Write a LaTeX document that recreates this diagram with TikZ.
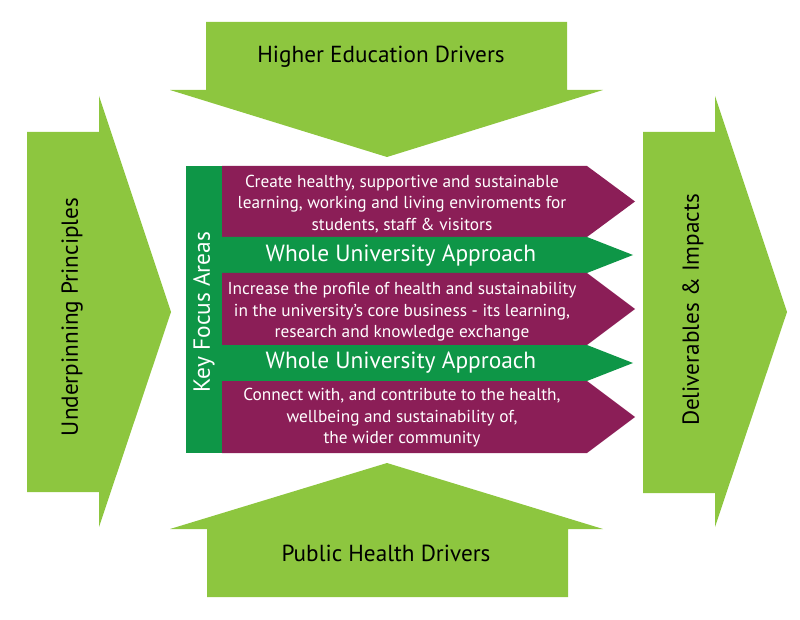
\documentclass[tikz,border=0pt]{standalone}
\usepackage{fontspec}
\setmainfont{PT Sans}
\definecolor{lgreen}{RGB}{141,198,63}
\definecolor{dgreen}{RGB}{14,150,71}
\definecolor{plum}{RGB}{139,30,87}
\begin{document}
\begin{tikzpicture}[x=1pt,y=-1pt,
  bigarrow/.style={fill=lgreen,draw=none},
  bandp/.style={fill=plum,draw=none},
  bandg/.style={fill=dgreen,draw=none},
  bigtext/.style={font=\fontsize{23.2}{27}\selectfont,text=black,inner sep=0pt},
  ptext/.style={font=\fontsize{17.3}{21.5}\selectfont,text=white,align=center,inner sep=0pt},
  gtext/.style={font=\fontsize{23.4}{26}\selectfont,text=white,inner sep=0pt}]
\useasboundingbox (0,0) rectangle (800,620);
% big arrows
\path[bigarrow] (206,22) -- (567,22) -- (567,90) -- (603,90) -- (387,157) -- (170,90) -- (206,90) -- cycle;
\path[bigarrow] (207,597) -- (568,597) -- (568,529) -- (603,529) -- (387,463) -- (170,529) -- (207,529) -- cycle;
\path[bigarrow] (27,132) -- (99,132) -- (99,96) -- (171,312) -- (99,527) -- (99,492) -- (27,492) -- cycle;
\path[bigarrow] (643,132) -- (715,132) -- (715,96) -- (787,312) -- (715,527) -- (715,493) -- (643,493) -- cycle;
\node[bigtext] (he) at (381,57) {Higher Education Drivers};
\node[bigtext] (ph) at (386,553) {Public Health Drivers};
\node[bigtext,rotate=90] (up) at (72,317) {Underpinning Principles};
\node[bigtext,rotate=90] (di) at (693,310) {Deliverables \& Impacts};
% key focus bar
\path[bandg] (186,166) rectangle (222,453);
\node[gtext,rotate=90] (kf) at (204,312) {Key Focus Areas};
% bands
\path[bandp] (222,166) -- (587,166) -- (635,201.5) -- (587,237) -- (222,237) -- cycle;
\path[bandg] (222,237) -- (587,237) -- (633,255) -- (587,273) -- (222,273) -- cycle;
\path[bandp] (222,273) -- (587,273) -- (635,309) -- (587,345) -- (222,345) -- cycle;
\path[bandg] (222,345) -- (587,345) -- (633,363) -- (587,381) -- (222,381) -- cycle;
\path[bandp] (222,381) -- (587,381) -- (635,417) -- (587,453) -- (222,453) -- cycle;
\node[ptext] (p1) at (402,204) {Create healthy, supportive and sustainable\\learning, working and living enviroments for\\students, staff \& visitors};
\node[gtext] (w1) at (401,256) {Whole University Approach};
\node[ptext] (p2) at (402,312) {Increase the profile of health and sustainability\\in the university’s core business - its learning,\\research and knowledge exchange};
\node[gtext] (w2) at (401,363) {Whole University Approach};
\node[ptext] (p3) at (402,418) {Connect with, and contribute to the health,\\wellbeing and sustainability of,\\the wider community};
\end{tikzpicture}
\end{document}
